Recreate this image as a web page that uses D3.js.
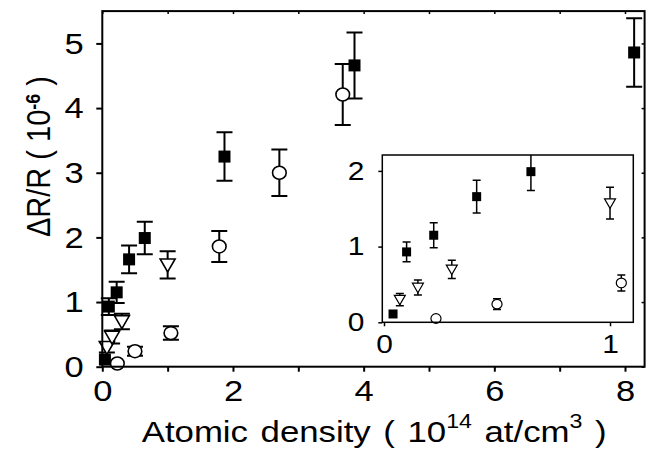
<!DOCTYPE html>
<html>
<head>
<meta charset="utf-8">
<script src="https://cdn.jsdelivr.net/npm/d3@7"></script>
<style>
  html, body { margin: 0; padding: 0; background: #fff; }
  svg { display: block; font-family: "Liberation Sans", Arial, Helvetica, sans-serif; }
</style>
</head>
<body>
<svg id="chart" width="647" height="451"></svg>
<script>
// ---- data (x in 10^14 at/cm^3, y in 10^-6) ----
const squareX   = [0.04, 0.10, 0.22, 0.41, 0.65, 1.87, 3.86, 8.14];
const squareY   = [0.11, 0.93, 1.15, 1.66, 1.99, 3.25, 4.66, 4.86];
const squareErr = [0.00, 0.13, 0.165, 0.215, 0.25, 0.375, 0.51, 0.53];

const triX   = [0.07, 0.15, 0.30, 1.00];
const triY   = [0.30, 0.46, 0.70, 1.575];
const triErr = [0.08, 0.10, 0.12, 0.21];

const circX   = [0.23, 0.50, 1.05, 1.79, 2.71, 3.68];
const circY   = [0.05, 0.24, 0.52, 1.86, 3.00, 4.21];
const circErr = [0.00, 0.07, 0.105, 0.24, 0.36, 0.47];

const mainXTicks = [0, 1, 2, 3, 4, 5, 6, 7, 8];
const mainXLabels = [0, 2, 4, 6, 8];
const mainYTicks = [0, 1, 2, 3, 4, 5];
const insetXTicks = [0, 1];
const insetYTicks = [0, 1, 2];

const SX = 1.15; // horizontal stretch of the lettering
const FONT = "Liberation Sans, Arial, sans-serif";

const svg = d3.select("#chart");

function zipSeries(xs, ys, es) { return xs.map((x, i) => ({ x, y: ys[i], e: es[i] })); }
const squares = zipSeries(squareX, squareY, squareErr);
const tris = zipSeries(triX, triY, triErr);
const circs = zipSeries(circX, circY, circErr);

function drawPanel(g, x, y, opt) {
  const [x0, x1] = x.range();
  const [y0, y1] = y.range();
  const clipId = opt.id + "-clip";
  g.append("clipPath").attr("id", clipId).append("rect")
    .attr("x", x0 - 20).attr("y", y1).attr("width", x1 - x0 + 40).attr("height", y0 - y1 + 20);
  const marks = g.append("g").attr("clip-path", `url(#${clipId})`);

  const inDomain = d => d.x >= x.domain()[0] && d.x <= x.domain()[1] && d.y <= y.domain()[1] + 0.2;

  function errBars(data) {
    const eb = marks.append("g").attr("stroke", "#000").attr("stroke-width", opt.ebw).attr("fill", "none");
    data.filter(d => d.e > 0 && inDomain(d)).forEach(d => {
      const cx = x(d.x);
      eb.append("line").attr("x1", cx).attr("x2", cx).attr("y1", y(d.y - d.e)).attr("y2", y(d.y + d.e));
      [d.y - d.e, d.y + d.e].forEach(v => {
        eb.append("line").attr("x1", cx - opt.cap).attr("x2", cx + opt.cap).attr("y1", y(v)).attr("y2", y(v));
      });
    });
  }
  errBars(tris); errBars(circs); errBars(squares);

  const s = opt.sq;
  marks.append("g").selectAll("path").data(tris.filter(inDomain)).join("path")
    .attr("d", d => {
      const cx = x(d.x), cy = y(d.y), w = opt.tw / 2, h = opt.th;
      return `M${cx - w},${cy - h * 0.45}L${cx + w},${cy - h * 0.45}L${cx},${cy + h * 0.55}Z`;
    })
    .attr("fill", "#fff").attr("stroke", "#000").attr("stroke-width", opt.mw);
  marks.append("g").selectAll("ellipse").data(circs.filter(inDomain)).join("ellipse")
    .attr("cx", d => x(d.x)).attr("cy", d => y(d.y)).attr("rx", opt.cr * 1.05).attr("ry", opt.cr)
    .attr("fill", "#fff").attr("stroke", "#000").attr("stroke-width", opt.mw);
  marks.append("g").selectAll("rect").data(squares.filter(inDomain)).join("rect")
    .attr("x", d => x(d.x) - s / 2).attr("y", d => y(d.y) - s / 2)
    .attr("width", s).attr("height", s).attr("fill", "#000");

  g.append("rect").attr("x", x0).attr("y", y1).attr("width", x1 - x0).attr("height", y0 - y1)
    .attr("fill", "none").attr("stroke", "#000").attr("stroke-width", opt.fw);
}

// ---- main panel ----
const mx = d3.scaleLinear().domain([0, 8.3]).range([102.3, 644.6]);
const my = d3.scaleLinear().domain([0, 5.5]).range([366.7, 11.1]);
const main = svg.append("g");
drawPanel(main, mx, my, { id: "main", sq: 12, cr: 6.5, tw: 15, th: 13, mw: 1.6, ebw: 2, cap: 8, fw: 2 });

const axB = d3.axisBottom(mx).tickValues(mainXTicks).tickSize(5).tickFormat(d => mainXLabels.includes(d) ? d : "");
main.append("g").attr("transform", `translate(0,${my(0)})`).call(axB)
  .call(g => g.select(".domain").remove())
  .call(g => g.selectAll("line").attr("stroke-width", 2))
  .call(g => g.selectAll("text").attr("font-size", 30).attr("font-family", FONT)
    .attr("y", 34).attr("dy", 0).attr("transform", `scale(${SX},1)`));
const axL = d3.axisLeft(my).tickValues(mainYTicks).tickSize(6).tickFormat(d3.format("d"));
main.append("g").attr("transform", `translate(${mx(0)},0)`).call(axL)
  .call(g => g.select(".domain").remove())
  .call(g => g.selectAll("line").attr("stroke-width", 2))
  .call(g => g.selectAll("text").attr("font-size", 30).attr("font-family", FONT)
    .attr("x", -18.5 / SX).attr("transform", `scale(${SX},1)`));
const axT = d3.axisTop(mx).tickValues(mainXTicks).tickSize(-3).tickFormat("");
main.append("g").attr("transform", `translate(0,${my(5.5)})`).call(axT)
  .call(g => g.select(".domain").remove()).call(g => g.selectAll("line").attr("stroke-width", 1.5));
const axR = d3.axisRight(my).tickValues(mainYTicks).tickSize(-3).tickFormat("");
main.append("g").attr("transform", `translate(${mx(8.3)},0)`).call(axR)
  .call(g => g.select(".domain").remove()).call(g => g.selectAll("line").attr("stroke-width", 1.5));

// ---- inset panel ----
const ix = d3.scaleLinear().domain([-0.0075, 1.103]).range([382.3, 633.3]);
const iy = d3.scaleLinear().domain([0, 2.21]).range([322.3, 155]);
const inset = svg.append("g");
inset.append("rect").attr("x", 382.3).attr("y", 155).attr("width", 251).attr("height", 167.3).attr("fill", "#fff");
drawPanel(inset, ix, iy, { id: "inset", sq: 9, cr: 4.8, tw: 11, th: 9.5, mw: 1.2, ebw: 1.5, cap: 4, fw: 1.5 });
const iaxB = d3.axisBottom(ix).tickValues(insetXTicks).tickSize(4).tickFormat(d3.format("d"));
inset.append("g").attr("transform", `translate(0,${iy(0)})`).call(iaxB)
  .call(g => g.select(".domain").remove())
  .call(g => g.selectAll("line").attr("stroke-width", 1.5))
  .call(g => g.selectAll("text").attr("font-size", 26).attr("font-family", FONT)
    .attr("y", 31).attr("dy", 0).attr("transform", `scale(${SX},1)`));
const iaxL = d3.axisLeft(iy).tickValues(insetYTicks).tickSize(4).tickFormat(d3.format("d"));
inset.append("g").attr("transform", `translate(${ix.range()[0]},0)`).call(iaxL)
  .call(g => g.select(".domain").remove())
  .call(g => g.selectAll("line").attr("stroke-width", 1.5))
  .call(g => g.selectAll("text").attr("font-size", 26).attr("font-family", FONT)
    .attr("x", -18 / SX).attr("transform", `scale(${SX},1)`));

// ---- axis titles ----
const xt = svg.append("text").attr("transform", `translate(141.7,441.7) scale(${SX + 0.01},1)`)
  .attr("text-anchor", "start").attr("font-size", 30).attr("word-spacing", 2.5).attr("fill", "#000");
xt.append("tspan").text("Atomic density ( 10");
xt.append("tspan").text("14").attr("font-size", 20).attr("dy", -14);
xt.append("tspan").text(" at/cm").attr("dy", 14);
xt.append("tspan").text("3").attr("font-size", 20).attr("dy", -14);
xt.append("tspan").text("  )").attr("dy", 14);

const yt = svg.append("text").attr("transform", `translate(50,156.5) rotate(-90) scale(1,${SX})`)
  .attr("text-anchor", "middle").attr("font-size", 29).attr("fill", "#000");
yt.append("tspan").text("\u0394R/R  ( 10");
yt.append("tspan").text("-6").attr("font-size", 18).attr("font-weight", "bold").attr("dy", -9);
yt.append("tspan").text(" )").attr("dy", 9);
</script>
</body>
</html>
